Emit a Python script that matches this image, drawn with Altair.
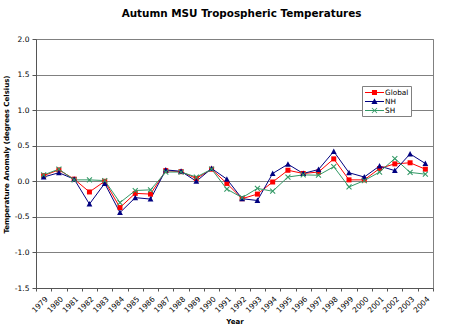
import altair as alt
import pandas as pd

years = list(range(1979, 2005))
series_names = ["Global", "NH", "SH"]
global_vals = [0.08, 0.16, 0.03, -0.15, 0.00, -0.37, -0.17, -0.18, 0.15, 0.135,
               0.04, 0.17, -0.03, -0.245, -0.18, -0.01, 0.155, 0.11, 0.13, 0.315,
               0.02, 0.02, 0.18, 0.245, 0.26, 0.17]
nh_vals = [0.06, 0.12, 0.03, -0.32, -0.03, -0.44, -0.23, -0.25, 0.16, 0.14,
           0.00, 0.18, 0.03, -0.245, -0.27, 0.11, 0.24, 0.11, 0.165, 0.42,
           0.12, 0.06, 0.215, 0.15, 0.385, 0.25]
sh_vals = [0.09, 0.17, 0.02, 0.02, 0.01, -0.30, -0.13, -0.12, 0.13, 0.13,
           0.06, 0.17, -0.11, -0.23, -0.10, -0.14, 0.06, 0.09, 0.085, 0.205,
           -0.08, 0.01, 0.13, 0.32, 0.125, 0.10]
y_ticks = [-1.5, -1.0, -0.5, 0.0, 0.5, 1.0, 1.5, 2.0]

rows = []
for name, vals in zip(series_names, [global_vals, nh_vals, sh_vals]):
    for yr, v in zip(years, vals):
        rows.append({"Year": str(yr), "Series": name, "Value": v})
df = pd.DataFrame(rows)

colors = ["#FF0000", "#000080", "#339966"]
FONT = "DejaVu Sans"

# marker shapes (unit coords)
sq = "M-1,-1H1V1H-1Z"
tri = "M0,-1.2L1.15,1H-1.15Z"
t = 0.15
xm = (f"M{-1-t},{-1+t}L{-1+t},{-1-t}L{1+t},{1-t}L{1-t},{1+t}Z "
      f"M{-1-t},{1-t}L{1-t},{-1-t}L{1+t},{-1+t}L{-1+t},{1+t}Z")

# legend symbols: line + marker
cx = 1.33
ln = "M-0.78,-0.11H3.44V0.11H-0.78Z "
a = 0.56
lg_sq = ln + f"M{cx-a},{-a}H{cx+a}V{a}H{cx-a}Z"
lg_tri = ln + f"M{cx},-0.72L{cx+0.68},0.56H{cx-0.68}Z"
tt = 0.07
lg_x = ln + (f"M{cx-a-tt},{-a+tt}L{cx-a+tt},{-a-tt}L{cx+a+tt},{a-tt}L{cx+a-tt},{a+tt}Z "
             f"M{cx-a-tt},{a-tt}L{cx+a-tt},{-a-tt}L{cx+a+tt},{-a+tt}L{cx-a+tt},{a+tt}Z")

x_enc = alt.X(
    "Year:O",
    sort=None,
    scale=alt.Scale(type="band", paddingInner=0, paddingOuter=0),
    axis=alt.Axis(
        title="Year", titleFont=FONT, titleFontSize=7, titleFontWeight="bold",
        titleColor="black", titleY=35, titleBaseline="alphabetic",
        labelAngle=-45, labelFont=FONT, labelFontSize=7.5, labelColor="black",
        labelOverlap=False, labelPadding=4, tickBand="extent", tickSize=3,
        tickColor="#555555", domainColor="#555555", grid=False,
    ),
)
y_enc = alt.Y(
    "Value:Q",
    scale=alt.Scale(domain=[-1.5, 2.0], nice=False, zero=False),
    axis=alt.Axis(
        title="Temperature Anomaly (degrees Celsius)", titleFont=FONT,
        titleFontSize=7, titleFontWeight="bold", titleColor="black",
        titleX=-29.3, titleY=115, titleAngle=270, titleAlign="center",
        titleBaseline="middle",
        values=y_ticks, labelExpr="replace(format(datum.value, '.1f'), '\u2212', '-')",
        labelFont=FONT, labelFontSize=7.5, labelColor="black", labelPadding=3,
        tickSize=4, tickColor="#555555", domainColor="#555555",
        grid=True, gridColor="#808080", gridWidth=1,
    ),
)

color_scale = alt.Scale(domain=series_names, range=colors)

base = alt.Chart(df)

lines = base.mark_line(strokeWidth=1).encode(
    x=x_enc, y=y_enc,
    color=alt.Color("Series:N", scale=color_scale, legend=None),
    detail="Series:N",
)

points = base.mark_point(filled=True, size=25, opacity=1).encode(
    x=x_enc, y=y_enc,
    color=alt.Color("Series:N", scale=color_scale, legend=None),
    shape=alt.Shape("Series:N", scale=alt.Scale(domain=series_names, range=[sq, tri, xm]), legend=None),
)

leg_kwargs = dict(
    title=None, orient="none", legendX=326, legendY=47,
    fillColor="white", strokeColor="#808080", padding=2, rowPadding=1,
    labelFont=FONT, labelFontSize=7.3, labelColor="black", labelOffset=12,
    symbolSize=81, symbolStrokeWidth=0, cornerRadius=0,
)

legend_layer = base.transform_filter("datum.Value > 100").mark_point(
    filled=True, size=81, opacity=1
).encode(
    x=x_enc, y=y_enc,
    color=alt.Color("Series:N", scale=color_scale, legend=alt.Legend(**leg_kwargs)),
    shape=alt.Shape("Series:N", scale=alt.Scale(domain=series_names, range=[lg_sq, lg_tri, lg_x]),
                    legend=alt.Legend(**leg_kwargs)),
)

chart = alt.layer(lines, points, legend_layer).resolve_scale(
    color="independent", shape="independent"
).properties(
    width=397, height=249,
    title=alt.Title("Autumn MSU Tropospheric Temperatures", font=FONT, fontSize=10.4,
                    fontWeight="bold", color="black", anchor="middle", dx=7, offset=16),
    autosize=alt.AutoSizeParams(type="none"),
    padding={"left": 36, "top": 39, "right": 19, "bottom": 40},
    background="white",
).configure_view(stroke="#808080", strokeWidth=1)

chart.save("out.html", embed_options={"renderer": "svg", "actions": False})
